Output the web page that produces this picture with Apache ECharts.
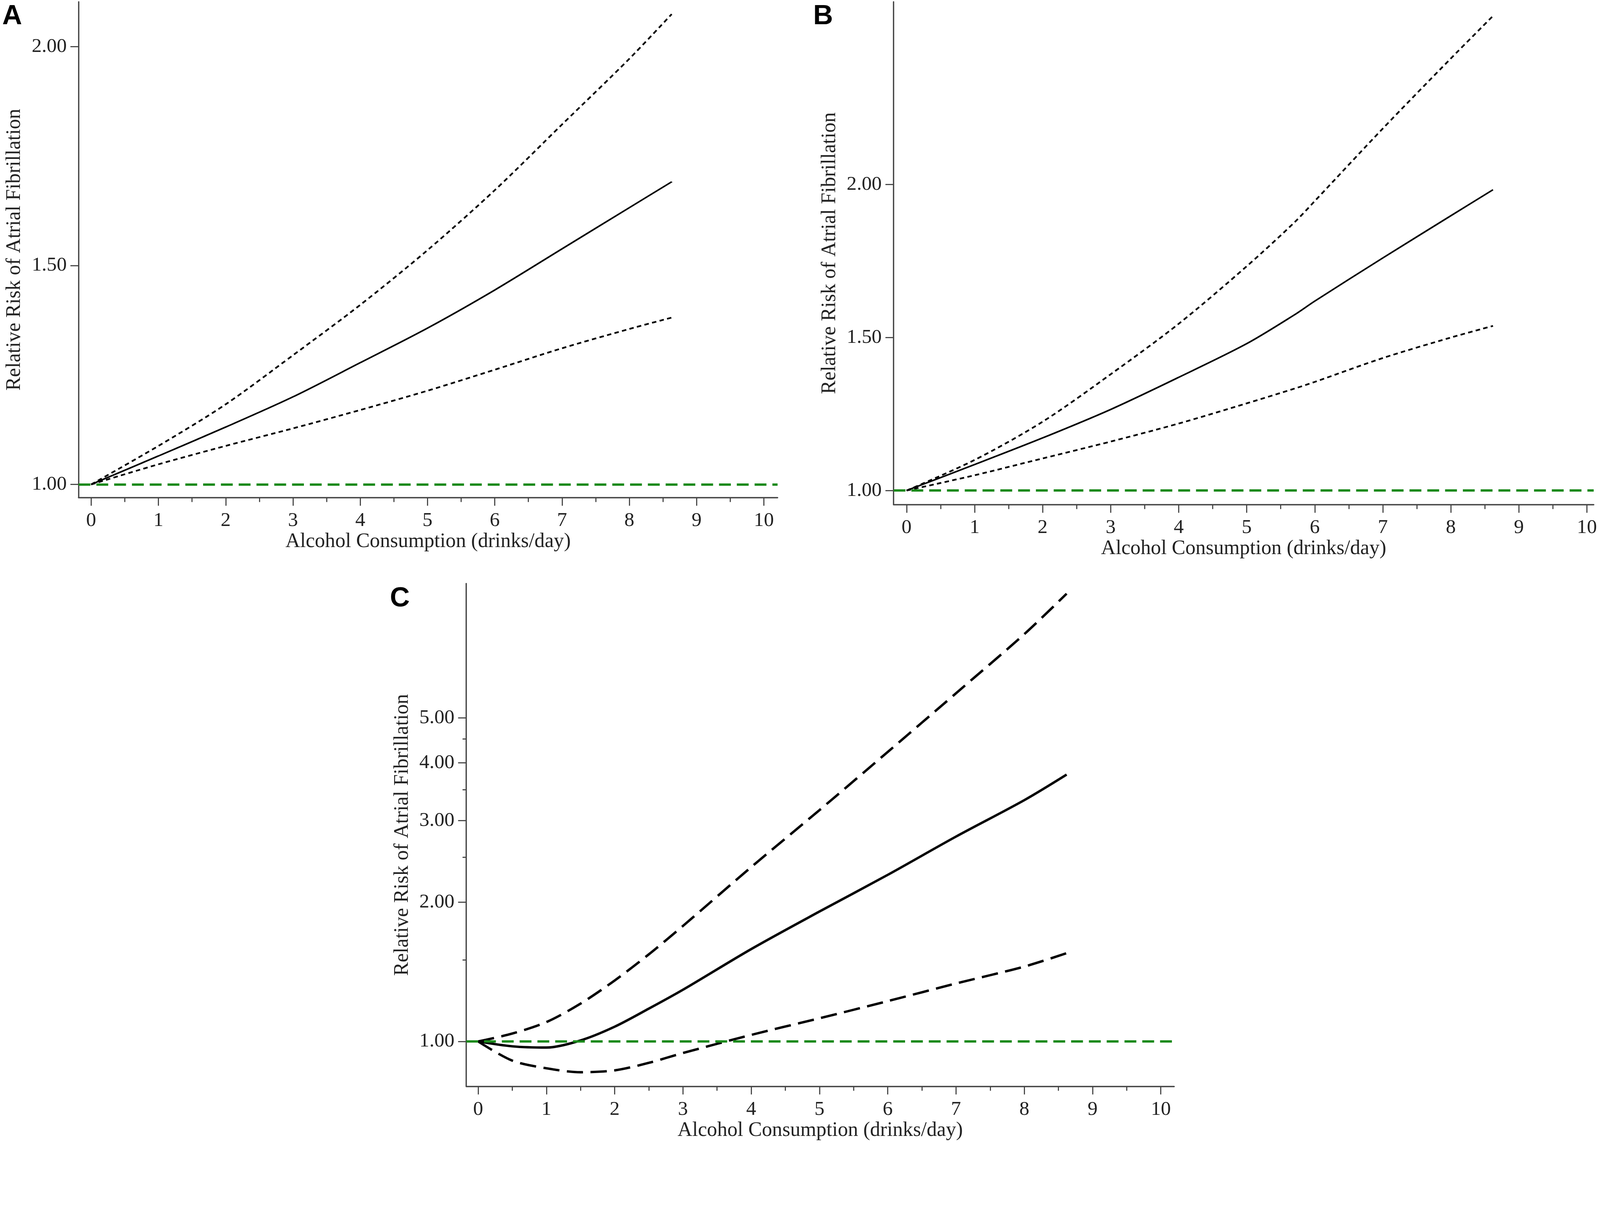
<!DOCTYPE html>
<html>
<head>
<meta charset="utf-8">
<style>
  html, body { margin: 0; padding: 0; background: #fff; overflow: hidden; }
  #main { width: 100vw; height: 100vh; }
</style>
<script src="https://cdn.jsdelivr.net/npm/echarts@6/dist/echarts.min.js"></script>
</head>
<body>
<div id="main"></div>
<script>
// tick values
var xTicks = [0, 1, 2, 3, 4, 5, 6, 7, 8, 9, 10];
var xMinorTicks = [0.5, 1.5, 2.5, 3.5, 4.5, 5.5, 6.5, 7.5, 8.5, 9.5];
var yTicksA = [1, 1.5, 2];
var yTicksB = [1, 1.5, 2];
var yTicksC = [1, 2, 3, 4, 5];
var yMinorTicksC = [1.5, 2.5, 3.5, 4.5];

// panel A: relative risk vs drinks/day
var xA = [0, 1, 2, 3, 4, 5, 6, 7, 8, 8.63];
var rrA = [1, 1.065, 1.131, 1.200, 1.278, 1.357, 1.444, 1.538, 1.632, 1.691];
var upperA = [1, 1.088, 1.183, 1.295, 1.410, 1.535, 1.672, 1.822, 1.972, 2.074];
var lowerA = [1, 1.046, 1.088, 1.128, 1.170, 1.214, 1.262, 1.311, 1.355, 1.381];

// panel B
var xB = [0, 1, 2, 3, 4, 5, 5.7, 6, 7, 8, 8.62];
var rrB = [1, 1.085, 1.172, 1.265, 1.370, 1.480, 1.574, 1.619, 1.760, 1.898, 1.983];
var upperB = [1, 1.100, 1.225, 1.380, 1.545, 1.733, 1.876, 1.946, 2.183, 2.412, 2.551];
var lowerB = [1, 1.050, 1.105, 1.160, 1.219, 1.285, 1.333, 1.355, 1.433, 1.500, 1.538];

// panel C (log scale)
var xC = [0, 0.5, 1, 1.5, 2, 2.5, 3, 4, 5, 6, 7, 8, 8.62];
var rrC = [1, 0.976, 0.970, 1.005, 1.076, 1.177, 1.293, 1.583, 1.908, 2.290, 2.770, 3.320, 3.770];
var upperC = [1, 1.040, 1.101, 1.207, 1.354, 1.542, 1.776, 2.380, 3.160, 4.220, 5.650, 7.580, 9.270];
var lowerC = [1, 0.909, 0.875, 0.858, 0.866, 0.899, 0.944, 1.033, 1.122, 1.222, 1.334, 1.451, 1.551];

var FONT = 'Liberation Serif';
var TXT = '#222';
var AXIS = '#444';

var dom = document.getElementById('main');
// layout was measured on the 4317 x 3091 reference; keep its aspect and scale it to the page
var k = Math.min(dom.clientWidth / 4317, dom.clientHeight / 3091);
function S(v) { return v * k; }

function pairs(xs, ys) {
    return xs.map(function (x, i) { return [x, ys[i]]; });
}

function xMain(grid, min, max) {
    return {
        type: 'value', gridIndex: grid, min: min, max: max,
        name: 'Alcohol Consumption (drinks/day)',
        nameLocation: 'middle', nameGap: S(92),
        nameTextStyle: { fontFamily: FONT, fontSize: S(55), color: TXT },
        axisLine: { onZero: false, lineStyle: { color: AXIS, width: S(3.5) } },
        axisTick: { customValues: xTicks, length: S(22), lineStyle: { color: AXIS, width: S(3) } },
        axisLabel: { customValues: xTicks, margin: S(36), fontFamily: FONT, fontSize: S(54), color: TXT },
        splitLine: { show: false }
    };
}

// second x axis only for the short half-unit ticks
function xMinor(grid, min, max) {
    return {
        type: 'value', gridIndex: grid, min: min, max: max, position: 'bottom',
        axisLine: { show: false, onZero: false },
        axisTick: { customValues: xMinorTicks, length: S(12), lineStyle: { color: AXIS, width: S(3) } },
        axisLabel: { show: false },
        splitLine: { show: false }
    };
}

function yAxisOf(type, grid, min, max, ticks) {
    var ax = {
        type: type, gridIndex: grid, min: min, max: max,
        name: 'Relative Risk of Atrial Fibrillation',
        nameLocation: 'middle', nameGap: S(145),
        nameTextStyle: { fontFamily: FONT, fontSize: S(55), color: TXT },
        axisLine: { show: true, onZero: false, lineStyle: { color: AXIS, width: S(3.5) } },
        axisTick: { show: true, customValues: ticks, length: S(22), lineStyle: { color: AXIS, width: S(3) } },
        axisLabel: {
            customValues: ticks, margin: S(32), fontFamily: FONT, fontSize: S(54), color: TXT,
            formatter: function (v) { return Number(v).toFixed(2); }
        },
        splitLine: { show: false }
    };
    if (type === 'log') ax.logBase = 10;
    return ax;
}

var refLine = {
    silent: true,
    symbol: ['none', 'none'],
    label: { show: false },
    lineStyle: { color: '#1b8a1b', width: S(6.5), type: [S(32), S(16)] },
    data: [{ yAxis: 1 }]
};

function curve(xi, yi, xs, ys, width, dash, withRef) {
    var s = {
        type: 'line', xAxisIndex: xi, yAxisIndex: yi,
        data: pairs(xs, ys),
        showSymbol: false, smooth: 0.3,
        lineStyle: { color: '#000', width: S(width), type: dash },
        z: 3
    };
    if (withRef) s.markLine = refLine;
    return s;
}

var dotted = [S(12), S(9)];
var longDash = [S(44), S(20)];

var letterStyle = { fontFamily: 'Liberation Sans', fontWeight: 'bold', fontSize: S(74), color: '#000' };

var myChart = echarts.init(dom);

var option = {
    backgroundColor: '#fff',
    animation: false,
    title: [
        { text: 'A', left: S(6), top: S(8), padding: 0, textStyle: letterStyle },
        { text: 'B', left: S(2194), top: S(8), padding: 0, textStyle: letterStyle },
        { text: 'C', left: S(1052), top: S(1580), padding: 0, textStyle: letterStyle }
    ],
    grid: [
        { left: S(212), top: S(5), width: S(1886), height: S(1338) },
        { left: S(2411), top: S(5), width: S(1889), height: S(1357) },
        { left: S(1258), top: S(1575), width: S(1910), height: S(1357) }
    ],
    xAxis: [
        xMain(0, -0.187, 10.204), xMinor(0, -0.187, 10.204),
        xMain(1, -0.191, 10.10), xMinor(1, -0.191, 10.10),
        xMain(2, -0.174, 10.195), xMinor(2, -0.174, 10.195)
    ],
    yAxis: [
        yAxisOf('value', 0, 0.970, 2.102, yTicksA),
        yAxisOf('value', 1, 0.954, 2.597, yTicksB),
        yAxisOf('log', 2, 0.80, 9.75, yTicksC),
        {
            type: 'log', logBase: 10, gridIndex: 2, min: 0.80, max: 9.75, position: 'left',
            axisLine: { show: false, onZero: false },
            axisTick: { show: true, customValues: yMinorTicksC, length: S(10), lineStyle: { color: AXIS, width: S(3) } },
            axisLabel: { show: false },
            splitLine: { show: false }
        }
    ],
    series: [
        curve(0, 0, xA, rrA, 4.2, 'solid', true),
        curve(0, 0, xA, upperA, 4.6, dotted),
        curve(0, 0, xA, lowerA, 4.6, dotted),

        curve(2, 1, xB, rrB, 4.2, 'solid', true),
        curve(2, 1, xB, upperB, 4.6, dotted),
        curve(2, 1, xB, lowerB, 4.6, dotted),

        curve(4, 2, xC, rrC, 6.5, 'solid', true),
        curve(4, 2, xC, upperC, 6.5, longDash),
        curve(4, 2, xC, lowerC, 6.5, longDash)
    ]
};

myChart.setOption(option);
</script>
</body>
</html>
